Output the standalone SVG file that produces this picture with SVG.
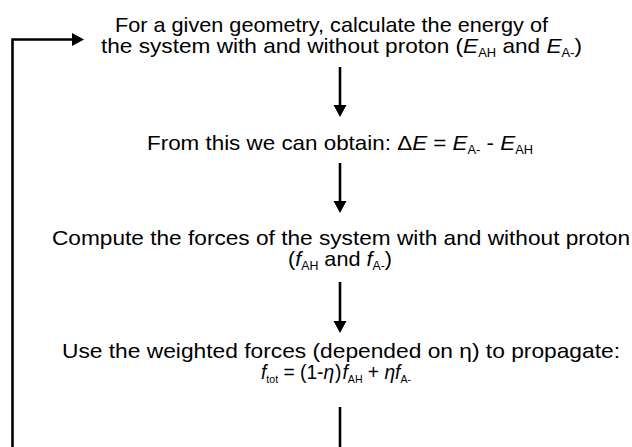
<svg xmlns="http://www.w3.org/2000/svg" width="632" height="447" viewBox="0 0 632 447">
<style>
text{font-family:"Liberation Sans",Arial,sans-serif;font-size:21px;fill:#000;text-anchor:middle}
.i{font-style:italic}
.s{font-size:12px}
.f{font-size:20px}
.f .s{font-size:11px}
.c{stroke:#000;stroke-width:2.6;fill:none}
</style>
<defs>
<marker id="ah" markerUnits="userSpaceOnUse" markerWidth="13" markerHeight="14" refX="0" refY="6.5" orient="auto" overflow="visible">
<path d="M0,0 L12,6.5 L0,13 Z" fill="#000"/>
</marker>
</defs>
<rect width="632" height="447" fill="#fff"/>
<g id="connectors">
<polyline class="c" points="12.5,447 12.5,39.5 72,39.5" marker-end="url(#ah)"/>
<line class="c" x1="340" y1="67" x2="340" y2="105" marker-end="url(#ah)"/>
<line class="c" x1="340" y1="163" x2="340" y2="201" marker-end="url(#ah)"/>
<line class="c" x1="340" y1="282" x2="340" y2="321" marker-end="url(#ah)"/>
<line class="c" x1="340" y1="407" x2="340" y2="447"/>
</g>
<g id="node1">
<text x="331.5" y="32" textLength="433" lengthAdjust="spacingAndGlyphs">For a given geometry, calculate the energy of</text>
<text x="341.5" y="53" textLength="481" lengthAdjust="spacingAndGlyphs">the system with and without proton (<tspan class="i">E</tspan><tspan class="s" dy="4">AH</tspan><tspan dy="-4"> and </tspan><tspan class="i">E</tspan><tspan class="s" dy="4">A-</tspan><tspan dy="-4">)</tspan></text>
</g>
<g id="node2">
<text x="340" y="150" textLength="386" lengthAdjust="spacingAndGlyphs">From this we can obtain: Δ<tspan class="i">E</tspan> = <tspan class="i">E</tspan><tspan class="s" dy="4">A-</tspan><tspan dy="-4"> - </tspan><tspan class="i">E</tspan><tspan class="s" dy="4">AH</tspan></text>
</g>
<g id="node3">
<text x="341" y="245" textLength="578" lengthAdjust="spacingAndGlyphs">Compute the forces of the system with and without proton</text>
<text x="340" y="266" textLength="104" lengthAdjust="spacingAndGlyphs">(<tspan class="i">f</tspan><tspan class="s" dy="4">AH</tspan><tspan dy="-4"> and </tspan><tspan class="i">f</tspan><tspan class="s" dy="4">A-</tspan><tspan dy="-4">)</tspan></text>
</g>
<g id="node4">
<text x="341" y="358" textLength="558" lengthAdjust="spacingAndGlyphs">Use the weighted forces (depended on η) to propagate:</text>
<text class="f" x="336" y="379" textLength="150" lengthAdjust="spacingAndGlyphs"><tspan class="i">f</tspan><tspan class="s" dy="4">tot</tspan><tspan dy="-4"> = (1-</tspan><tspan class="i">η</tspan><tspan dx="1">)</tspan><tspan class="i" dx="1">f</tspan><tspan class="s" dy="4">AH</tspan><tspan dy="-4"> + </tspan><tspan class="i">ηf</tspan><tspan class="s" dy="4">A-</tspan></text>
</g>
</svg>
